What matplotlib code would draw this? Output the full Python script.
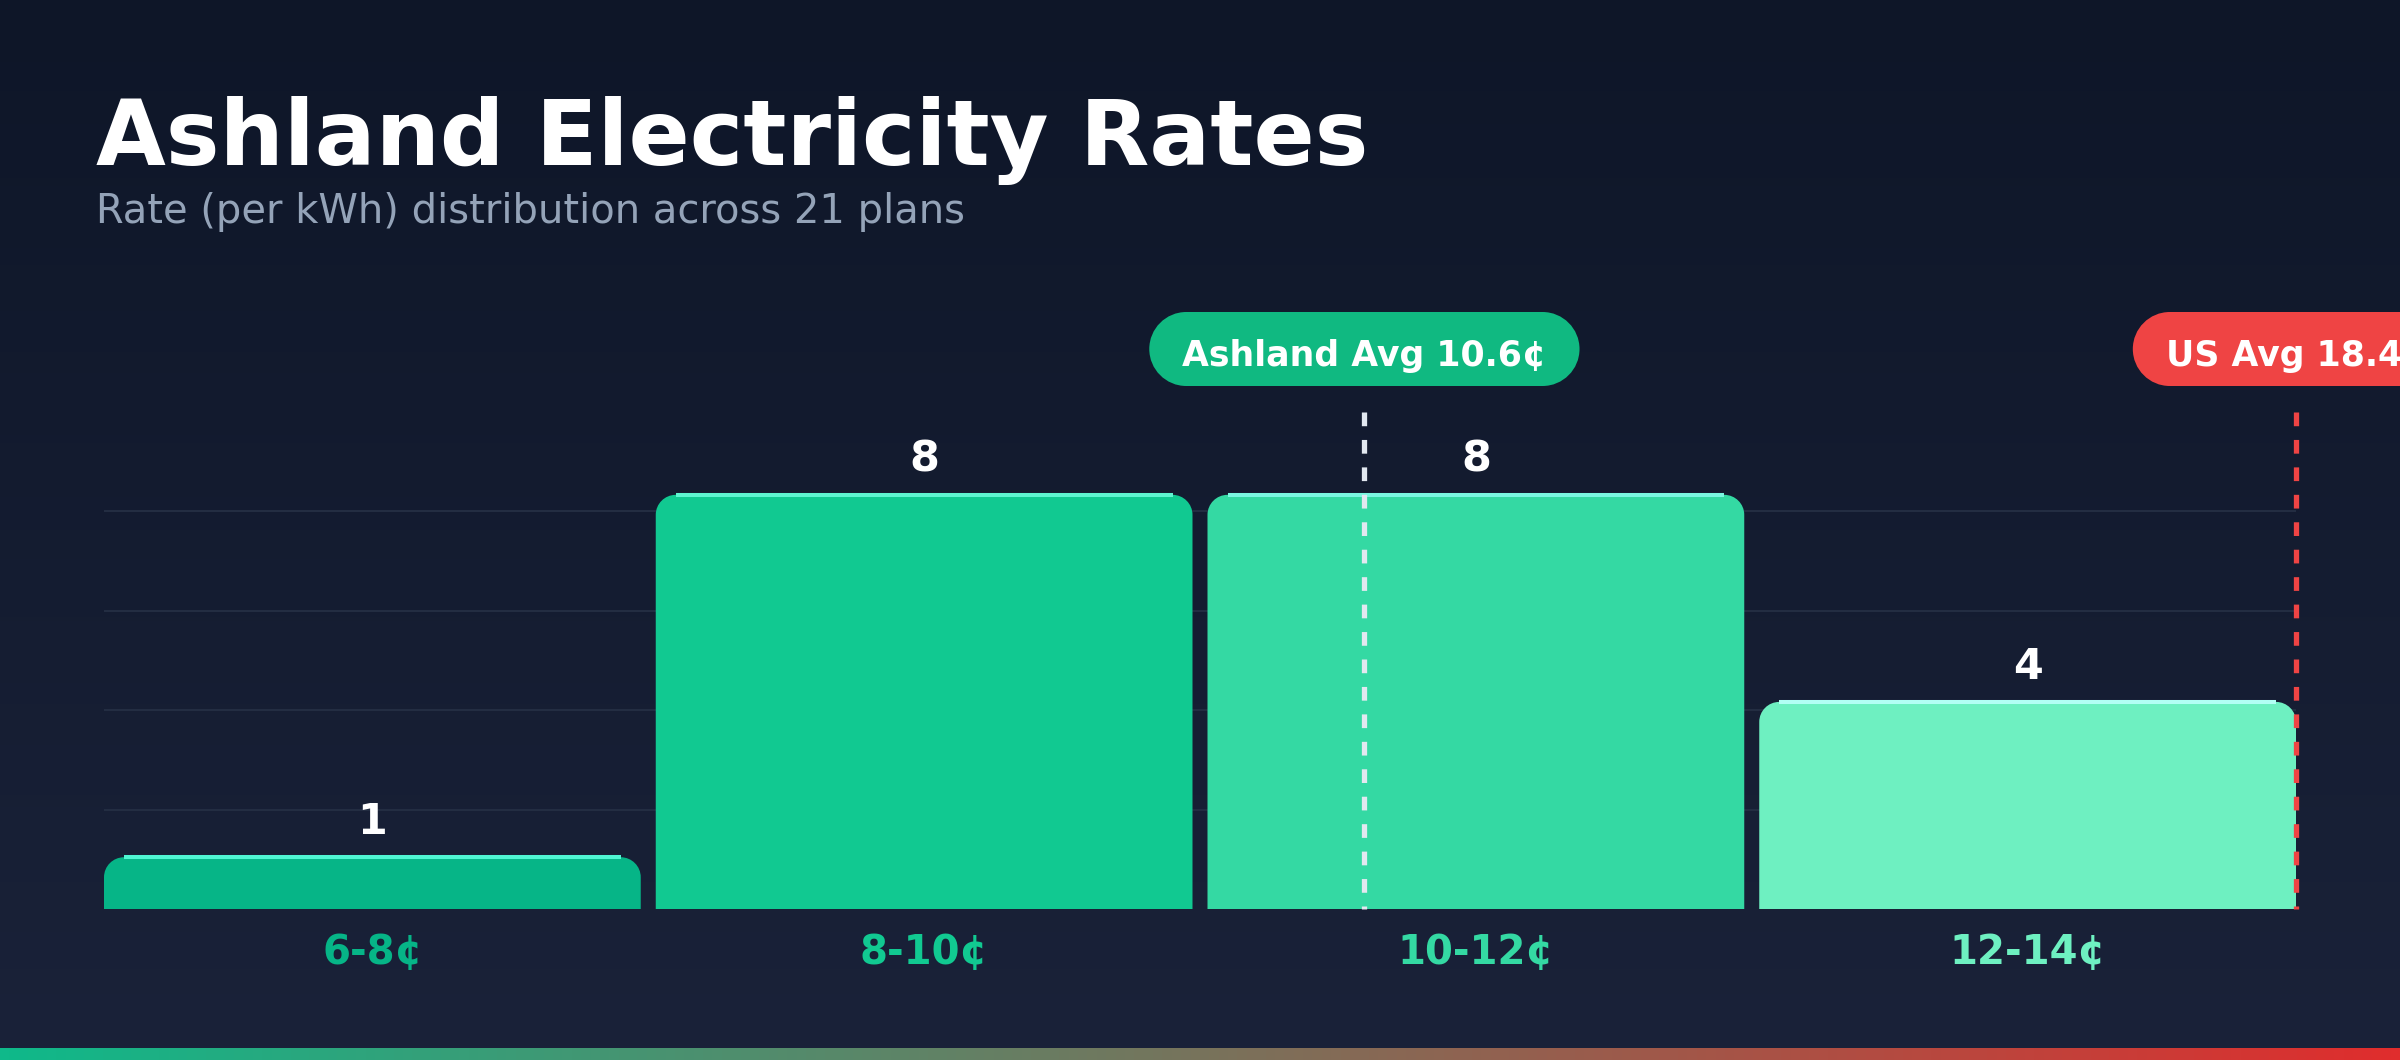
import matplotlib
matplotlib.use("Agg")
import matplotlib.pyplot as plt
import numpy as np
from matplotlib.patches import PathPatch
from matplotlib.path import Path
from matplotlib.transforms import IdentityTransform, blended_transform_factory
from matplotlib.colors import LinearSegmentedColormap

# data
bins = ["6-8¢", "8-10¢", "10-12¢", "12-14¢"]
bin_edges = [6, 8, 10, 12, 14]
counts = [1, 8, 8, 4]
ashland_avg = 10.6
us_avg = 18.4
title = "Ashland Electricity Rates"
subtitle = "Rate (per kWh) distribution across 21 plans"

bar_colors = ["#06b587", "#11c991", "#34d9a3", "#6ef0c1"]
top_colors = ["#4ff5d2", "#5ef5d0", "#7af7e0", "#b2fff4"]

K = 0.5523


def rounded_rect(x0, y0, w, h, rx, ry, bottom_round=True):
    # rectangle with circular-looking corners built from cubic curves
    x1, y1 = x0 + w, y0 + h
    verts = []
    codes = []
    if bottom_round:
        verts += [(x0 + rx, y0)]
        codes += [Path.MOVETO]
        verts += [(x1 - rx, y0), (x1 - rx + K * rx, y0), (x1, y0 + ry - K * ry), (x1, y0 + ry)]
        codes += [Path.LINETO, Path.CURVE4, Path.CURVE4, Path.CURVE4]
    else:
        verts += [(x0, y0), (x1, y0)]
        codes += [Path.MOVETO, Path.LINETO]
    verts += [(x1, y1 - ry), (x1, y1 - ry + K * ry), (x1 - rx + K * rx, y1), (x1 - rx, y1)]
    codes += [Path.LINETO, Path.CURVE4, Path.CURVE4, Path.CURVE4]
    verts += [(x0 + rx, y1), (x0 + rx - K * rx, y1), (x0, y1 - ry + K * ry), (x0, y1 - ry)]
    codes += [Path.LINETO, Path.CURVE4, Path.CURVE4, Path.CURVE4]
    if bottom_round:
        verts += [(x0, y0 + ry), (x0, y0 + ry - K * ry), (x0 + rx - K * rx, y0), (x0 + rx, y0)]
        codes += [Path.LINETO, Path.CURVE4, Path.CURVE4, Path.CURVE4]
    else:
        verts += [(x0, y0)]
        codes += [Path.LINETO]
    verts += [verts[0]]
    codes += [Path.CLOSEPOLY]
    return Path(verts, codes)


W, H = 2400, 1060
fig = plt.figure(figsize=(W / 100, H / 100), dpi=100)

# background gradient
bg = fig.add_axes([0, 0, 1, 1], zorder=-10)
bg_cmap = LinearSegmentedColormap.from_list("bg", ["#0e1628", "#1a2239"])
bg.imshow(np.linspace(0, 1, 256).reshape(-1, 1), aspect="auto", cmap=bg_cmap,
          extent=[0, 1, 0, 1], origin="upper")
bg.axis("off")

# bottom stripe
st = fig.add_axes([0, 0, 1, 12 / H], zorder=5)
st_cmap = LinearSegmentedColormap.from_list("st", ["#0fb98a", "#e02d2d"])
st.imshow(np.linspace(0, 1, 256).reshape(1, -1), aspect="auto", cmap=st_cmap)
st.axis("off")

ax = fig.add_axes([104 / W, 151 / H, 2192 / W, 497 / H])
ax.set_facecolor("none")
ymax = max(counts) * 1.2
ax.set_xlim(bin_edges[0], bin_edges[-1])
ax.set_ylim(0, ymax)
for s in ax.spines.values():
    s.set_visible(False)
ax.set_xticks([])
ax.set_yticks([])

for k in range(1, 5):
    ax.axhline(ymax * k / 5, color="#232d42", lw=1.5, zorder=0)

# pixel scales for rounded corners
px_x = ax.transData.transform((1, 0))[0] - ax.transData.transform((0, 0))[0]
px_y = ax.transData.transform((0, 1))[1] - ax.transData.transform((0, 0))[1]
radius_px = 20
gap = 15 / px_x
span = bin_edges[-1] - bin_edges[0]
bw = (span - gap * (len(counts) - 1)) / len(counts)
rx = radius_px / px_x
ry = radius_px / px_y

for i, (c, col, tcol) in enumerate(zip(counts, bar_colors, top_colors)):
    x0 = bin_edges[0] + i * (bw + gap)
    ax.add_patch(PathPatch(rounded_rect(x0, 0, bw, c, rx, ry, bottom_round=False),
                           fc=col, ec="none", zorder=2))
    ax.plot([x0 + rx, x0 + bw - rx], [c, c], color=tcol, lw=2.9,
            solid_capstyle="butt", zorder=3)
    ax.annotate(str(c), (x0 + bw / 2, c), xytext=(0, 16.5), textcoords="offset points",
                ha="center", va="baseline", color="white", fontsize=31,
                fontweight="bold", zorder=4)
    ax.annotate(bins[i], (x0 + bw / 2, 0), xytext=(0, -39.5), textcoords="offset points",
                ha="center", va="baseline", color=col, fontsize=29,
                fontweight="bold", annotation_clip=False)

# average lines
lines = [(ashland_avg, "#e2e8f0", f"Ashland Avg {ashland_avg}¢", "#10b981"),
         (us_avg, "#ef4444", f"US Avg {us_avg}¢", "#ef4444")]
renderer = fig.canvas.get_renderer()
trans = blended_transform_factory(ax.transData, ax.transAxes)
for val, lcol, label, pcol in lines:
    xv = min(val, bin_edges[-1])
    ax.plot([xv, xv], [1, 0], transform=trans, color=lcol, lw=3.8,
            linestyle=(0, (2.6, 2.6)), zorder=5, clip_on=False)
    t = ax.text(xv, 1.0926, label, transform=trans, ha="center", va="baseline",
                color="white", fontsize=25, fontweight="bold", zorder=11,
                clip_on=False)
    bb = t.get_window_extent(renderer=renderer)
    cx = ax.transData.transform((xv, 0))[0]
    cy = 711
    pw = bb.width + 66
    ph = 74
    pill = PathPatch(rounded_rect(cx - pw / 2, cy - ph / 2, pw, ph, ph / 2, ph / 2),
                     fc=pcol, ec="none", transform=IdentityTransform(),
                     zorder=10, clip_on=False)
    ax.add_artist(pill)

fig.text(96 / W, 1 - 165 / H, title, ha="left", va="baseline", color="white",
         fontsize=65, fontweight="bold")
fig.text(96 / W, 1 - 223 / H, subtitle, ha="left", va="baseline", color="#94a3b8",
         fontsize=28.8)

fig.savefig("out.png", dpi=100)
